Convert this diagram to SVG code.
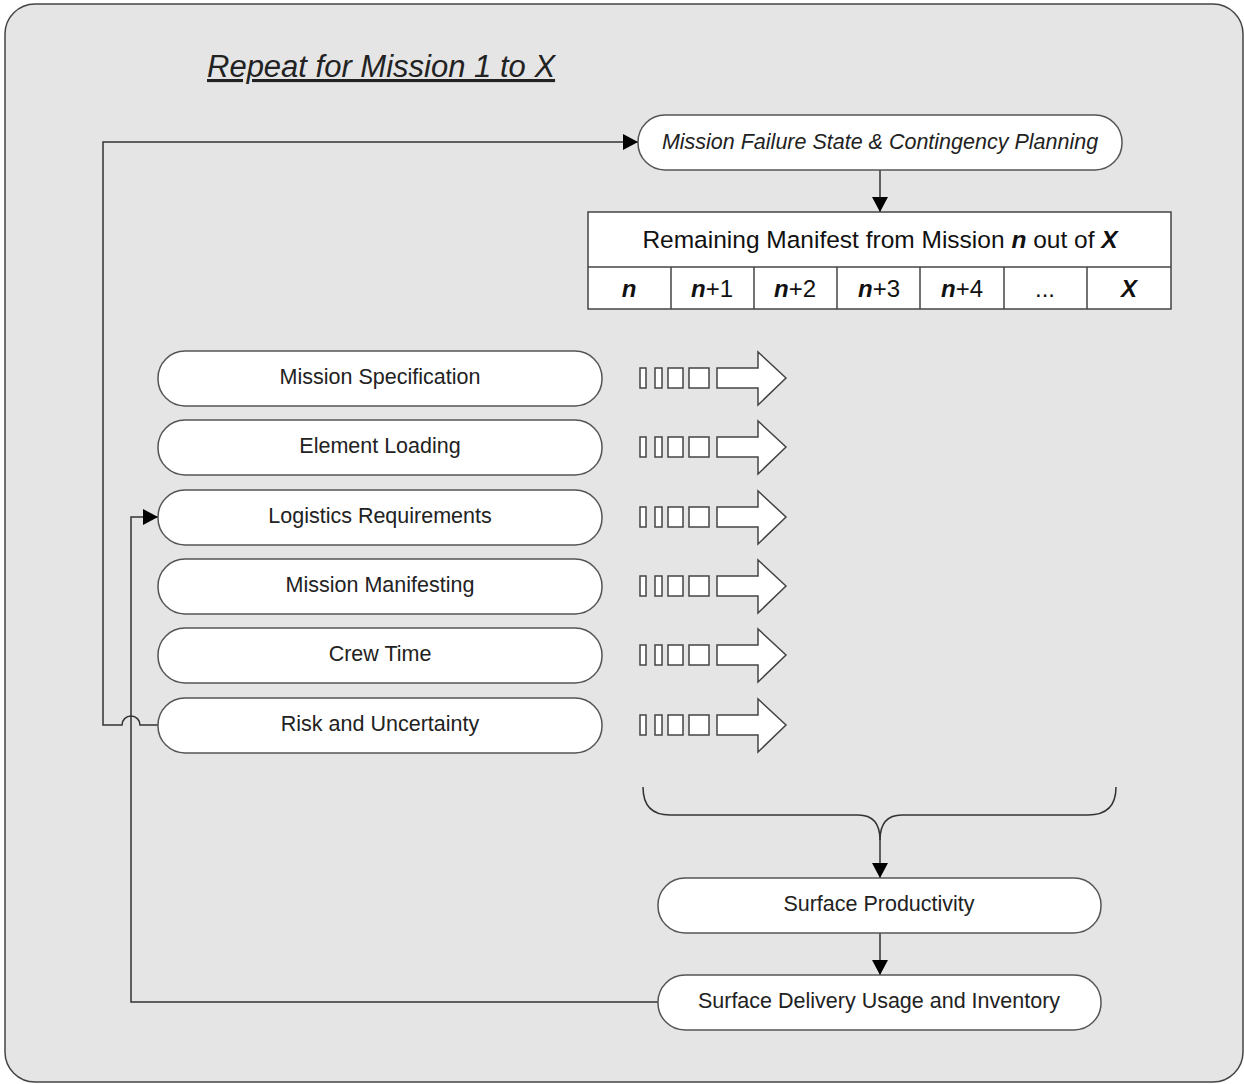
<svg xmlns="http://www.w3.org/2000/svg" width="1244" height="1084" viewBox="0 0 1244 1084">
<defs>
<style>
.node{fill:#fff;stroke:#555;stroke-width:1.5}
.t{font-family:"Liberation Sans",Arial,sans-serif;font-size:21.5px;fill:#222;text-anchor:middle;dominant-baseline:central}
.tt{font-family:"Liberation Sans",Arial,sans-serif;font-size:24.5px;fill:#111;text-anchor:middle;dominant-baseline:central}
.tc{font-family:"Liberation Sans",Arial,sans-serif;font-size:24px;fill:#111;text-anchor:middle;dominant-baseline:central}
.c{fill:none;stroke:#333;stroke-width:1.5}
.box{fill:#fff;stroke:#444;stroke-width:1.5}
</style>
<marker id="ah" viewBox="0 0 15 16" refX="15" refY="8" markerWidth="15" markerHeight="16" markerUnits="userSpaceOnUse" orient="auto">
<path d="M0,0 L15,8 L0,16 Z" fill="#000"/>
</marker>
<g id="feed">
<rect class="box" x="640" y="368" width="6" height="20"/>
<rect class="box" x="655" y="368" width="7" height="20"/>
<rect class="box" x="668" y="368" width="15" height="20"/>
<rect class="box" x="689" y="368" width="20" height="20"/>
<path class="box" d="M717,368 H758 V352 L786,378 L758,405 V388 H717 Z"/>
</g>
</defs>
<rect x="5" y="4" width="1238" height="1078" rx="30" fill="#e5e5e5" stroke="#444" stroke-width="1.5"/>
<text x="207" y="77" font-family="'Liberation Sans',Arial,sans-serif" font-size="31" font-style="italic" text-decoration="underline" fill="#222">Repeat for Mission 1 to X</text>

<g id="connectors">
<path class="c" d="M880,170 V212" marker-end="url(#ah)"/>
<path class="c" d="M158,725 H140 A9,9 0 0 0 122,725 H103 V142 H638" marker-end="url(#ah)"/>
<path class="c" d="M658,1002 H131 V517 H158" marker-end="url(#ah)"/>
<path class="c" d="M643,787 Q643,815 670,815 H858 Q880,815 880,840 Q880,815 902,815 H1088 Q1116,815 1116,787"/>
<path class="c" d="M880,838 V878" marker-end="url(#ah)"/>
<path class="c" d="M880,933 V975" marker-end="url(#ah)"/>
</g>

<g id="mission-failure">
<rect class="node" x="638" y="115" width="484" height="55" rx="27"/>
<text class="t" x="880" y="142" font-style="italic">Mission Failure State &amp; Contingency Planning</text>
</g>

<g id="manifest-table">
<rect class="box" x="588" y="212" width="583" height="97"/>
<line class="box" x1="588" y1="267" x2="1171" y2="267"/>
<line class="box" x1="671" y1="267" x2="671" y2="309"/>
<line class="box" x1="754" y1="267" x2="754" y2="309"/>
<line class="box" x1="837" y1="267" x2="837" y2="309"/>
<line class="box" x1="920" y1="267" x2="920" y2="309"/>
<line class="box" x1="1004" y1="267" x2="1004" y2="309"/>
<line class="box" x1="1087" y1="267" x2="1087" y2="309"/>
<text class="tt" x="880" y="239">Remaining Manifest from Mission <tspan font-weight="bold" font-style="italic">n</tspan> out of <tspan font-weight="bold" font-style="italic">X</tspan></text>
<text class="tc" x="629" y="288" font-weight="bold" font-style="italic">n</text>
<text class="tc" x="712" y="288"><tspan font-weight="bold" font-style="italic">n</tspan>+1</text>
<text class="tc" x="795" y="288"><tspan font-weight="bold" font-style="italic">n</tspan>+2</text>
<text class="tc" x="879" y="288"><tspan font-weight="bold" font-style="italic">n</tspan>+3</text>
<text class="tc" x="962" y="288"><tspan font-weight="bold" font-style="italic">n</tspan>+4</text>
<text class="tc" x="1045" y="288">...</text>
<text class="tc" x="1129" y="288" font-weight="bold" font-style="italic">X</text>
</g>

<g id="mission-specification">
<rect class="node" x="158" y="351" width="444" height="55" rx="27"/>
<text class="t" x="380" y="377">Mission Specification</text>
<use href="#feed"/>
</g>
<g id="element-loading">
<rect class="node" x="158" y="420" width="444" height="55" rx="27"/>
<text class="t" x="380" y="446">Element Loading</text>
<use href="#feed" y="69"/>
</g>
<g id="logistics-requirements">
<rect class="node" x="158" y="490" width="444" height="55" rx="27"/>
<text class="t" x="380" y="516">Logistics Requirements</text>
<use href="#feed" y="139"/>
</g>
<g id="mission-manifesting">
<rect class="node" x="158" y="559" width="444" height="55" rx="27"/>
<text class="t" x="380" y="585">Mission Manifesting</text>
<use href="#feed" y="208"/>
</g>
<g id="crew-time">
<rect class="node" x="158" y="628" width="444" height="55" rx="27"/>
<text class="t" x="380" y="654">Crew Time</text>
<use href="#feed" y="277"/>
</g>
<g id="risk-uncertainty">
<rect class="node" x="158" y="698" width="444" height="55" rx="27"/>
<text class="t" x="380" y="724">Risk and Uncertainty</text>
<use href="#feed" y="347"/>
</g>

<g id="surface-productivity">
<rect class="node" x="658" y="878" width="443" height="55" rx="27"/>
<text class="t" x="879" y="904">Surface Productivity</text>
</g>
<g id="surface-delivery">
<rect class="node" x="658" y="975" width="443" height="55" rx="27"/>
<text class="t" x="879" y="1001">Surface Delivery Usage and Inventory</text>
</g>
</svg>
